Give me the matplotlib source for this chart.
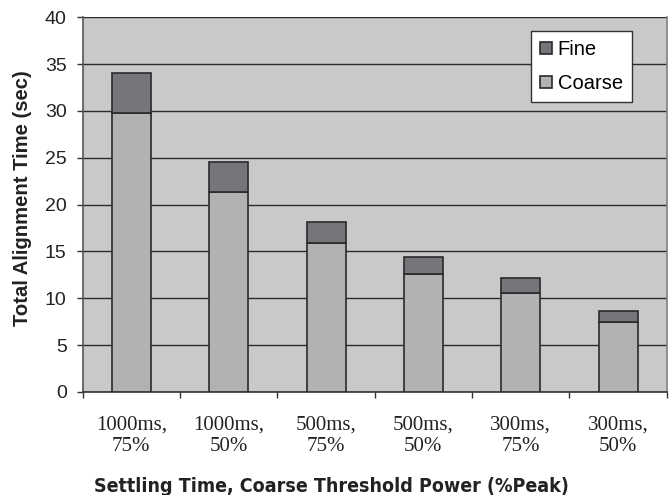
import matplotlib
matplotlib.use("Agg")
import matplotlib.pyplot as plt
import numpy as np

categories = ["1000ms,\n75%", "1000ms,\n50%", "500ms,\n75%", "500ms,\n50%", "300ms,\n75%", "300ms,\n50%"]
coarse = [29.8, 21.3, 15.9, 12.6, 10.6, 7.5]
fine = [4.3, 3.3, 2.2, 1.8, 1.6, 1.1]
yticks = [0, 5, 10, 15, 20, 25, 30, 35, 40]

W, H = 669, 495
fig = plt.figure(figsize=(W/100, H/100), dpi=100)
L, R, T, B = 82.7, 666.7, 17.3, 392.0
ax = fig.add_axes([L/W, 1 - B/H, (R-L)/W, (B-T)/H])
ax.set_facecolor("#c8c9cb")

x = np.arange(len(categories))
ax.bar(x, coarse, width=0.4, color="#b1b2b4", edgecolor="#2a2a2a", linewidth=1.2, label="Coarse", zorder=3)
ax.bar(x, fine, width=0.4, bottom=coarse, color="#757679", edgecolor="#2a2a2a", linewidth=1.2, label="Fine", zorder=3)

ax.set_xlim(-0.5, len(categories) - 0.5)
ax.set_ylim(0, 40)
ax.set_yticks(yticks)
ax.set_yticklabels([str(v) for v in yticks], fontfamily="Liberation Sans", fontsize=14, color="#222222")
ax.yaxis.grid(True, color="#2a2a2a", linewidth=1.0, zorder=1)
ax.set_axisbelow(True)

ax.set_xticks(np.arange(-0.5, len(categories), 1.0))
ax.set_xticklabels([])
ax.set_xticks(x, minor=True)
ax.set_xticklabels(categories, minor=True, fontfamily="Liberation Serif", fontsize=15, color="#222222")
ax.tick_params(axis="x", which="minor", length=0, pad=17)
ax.tick_params(axis="x", which="major", length=4, width=1, color="#333333", direction="out")
ax.tick_params(axis="y", length=4.5, width=1, color="#333333", direction="out", pad=7)

ax.spines["top"].set_visible(False)
ax.spines["right"].set_color("#808080")
ax.spines["right"].set_linewidth(1.2)
ax.spines["left"].set_color("#555555")
ax.spines["bottom"].set_color("#333333")
ax.spines["left"].set_linewidth(1.2)
ax.spines["bottom"].set_linewidth(1.2)

ax.set_ylabel("Total Alignment Time (sec)", fontfamily="Liberation Sans", fontweight="bold", fontsize=14.6, color="#222222")
ax.yaxis.set_label_coords((23 - L) / (R - L), (B - 198) / (B - T))
ax.yaxis.label.set_va("center")
ax.set_xlabel("Settling Time, Coarse Threshold Power (%Peak)", fontfamily="DejaVu Sans", fontweight="bold",
              fontstretch="condensed", fontsize=14, color="#222222")
ax.xaxis.set_label_coords((331 - L) / (R - L), (B - 486) / (B - T))
ax.xaxis.label.set_va("center")

handles, labels = ax.get_legend_handles_labels()
leg = ax.legend(handles[::-1], labels[::-1], loc="upper right",
                bbox_to_anchor=((632 - L) / (R - L), (B - 31) / (B - T)), borderaxespad=0,
                prop={"family": "Liberation Sans", "size": 14.5}, fancybox=False, frameon=True,
                handlelength=0.6, handleheight=0.6, handletextpad=0.3, borderpad=0.45, labelspacing=0.75)
leg.get_frame().set_edgecolor("#333333")
leg.get_frame().set_facecolor("white")
leg.get_frame().set_alpha(1)
leg.get_frame().set_linewidth(1.0)

fig.savefig("out.png", dpi=100)
